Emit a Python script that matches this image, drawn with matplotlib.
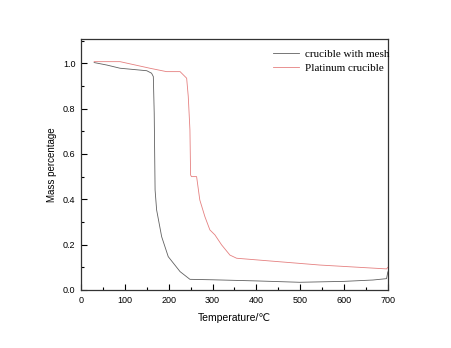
import numpy as np
import matplotlib
matplotlib.use("Agg")
import matplotlib.pyplot as plt
from matplotlib.ticker import MultipleLocator

#-- data
mesh_T = [30, 59, 89, 150, 161, 165, 167, 169, 172.5, 184, 199, 226, 248.5, 300,
          400, 499, 600, 666, 697, 700]
mesh_m = [1.003, 0.992, 0.978, 0.967, 0.956, 0.941, 0.78, 0.441, 0.353, 0.235, 0.147,
          0.081, 0.047, 0.045, 0.040, 0.034, 0.038, 0.044, 0.05, 0.08]

pt_T = [30, 89, 157, 195, 226, 241, 244.7, 248.5, 250, 252, 263.7, 271, 282.7, 294,
        305.5, 320.7, 339.7, 355, 545, 697, 700]
pt_m = [1.007, 1.007, 0.978, 0.963, 0.963, 0.934, 0.853, 0.706, 0.507, 0.50, 0.50,
        0.397, 0.323, 0.265, 0.243, 0.199, 0.154, 0.14, 0.11, 0.093, 0.10]

sans = ['Liberation Sans', 'DejaVu Sans']
serif = ['Liberation Serif', 'DejaVu Serif']

fig = plt.figure(figsize=(4.51, 3.48), dpi=100)
ax = fig.add_axes([0.1796, 0.1667, 0.6804, 0.7213])

ax.plot(mesh_T, mesh_m, color='#606060', lw=0.6, label='crucible with mesh')
ax.plot(pt_T, pt_m, color='#e58080', lw=0.6, label='Platinum crucible')

ax.set_xlim(0, 700)
ax.set_ylim(0, 1.107)
ax.xaxis.set_major_locator(MultipleLocator(100))
ax.xaxis.set_minor_locator(MultipleLocator(50))
ax.yaxis.set_minor_locator(MultipleLocator(0.1))
ax.set_yticks([0, 0.2, 0.4, 0.6, 0.8, 1.0])
ax.set_yticklabels(['0.0', '0.2', '0.4', '0.6', '0.8', '1.0'])
ax.tick_params(which='both', direction='in', top=False, right=False)
ax.tick_params(which='major', length=4, width=0.8, labelsize=6.5, pad=4)
ax.tick_params(which='minor', length=2.5, width=0.8)
for lab in ax.get_xticklabels() + ax.get_yticklabels():
    lab.set_family(sans)
for s in ax.spines.values():
    s.set_linewidth(0.9)
    s.set_color('#333333')

ax.set_xlabel('Temperature/℃', family=sans, fontsize=7.5, labelpad=6)
ax.set_ylabel('Mass percentage', family=sans, fontsize=7, labelpad=4)

leg = ax.legend(loc='upper right', frameon=False, prop={'family': serif, 'size': 8},
                handlelength=2.4, handletextpad=0.5, labelspacing=0.35,
                borderaxespad=0.3, bbox_to_anchor=(1.03, 0.99))

fig.savefig('out.png', dpi=100)
